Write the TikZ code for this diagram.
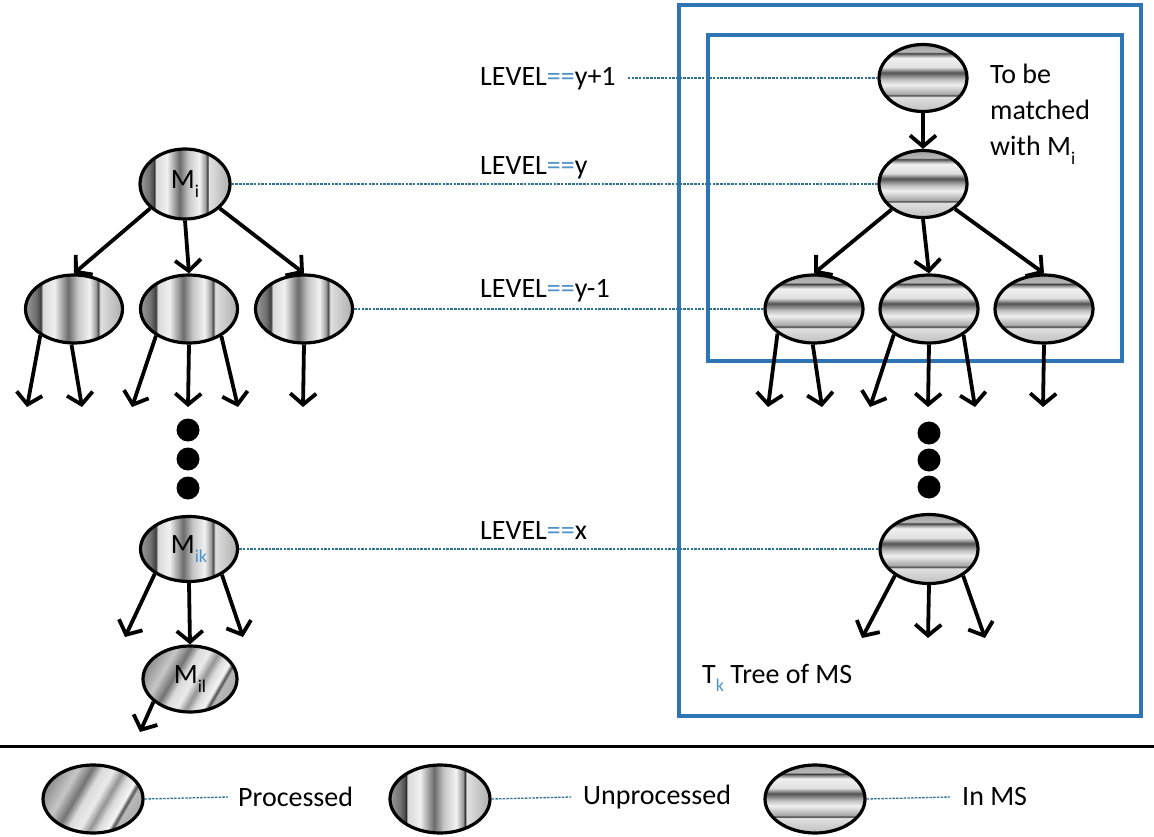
\documentclass[tikz,border=0pt]{standalone}
\usepackage{fontspec}
\setmainfont{Carlito}
\usetikzlibrary{shapes.geometric,arrows.meta}

\definecolor{boxblue}{HTML}{2E75B6}
\definecolor{leveldash}{HTML}{2F7394}
\definecolor{eqblue}{HTML}{4F93C8}

% vertical stripes (unprocessed)
\pgfdeclarehorizontalshading{vstripes}{100bp}{%
  color(0bp)=(black!40); color(25bp)=(black!40);
  color(30bp)=(black!55); color(32.3bp)=(black!70);
  color(33bp)=(black!82); color(33.8bp)=(black!15);
  color(40bp)=(black!6); color(47bp)=(black!58);
  color(52bp)=(black!22); color(58bp)=(black!5);
  color(61.5bp)=(black!40); color(62.5bp)=(black!80);
  color(63.3bp)=(black!12); color(75bp)=(black!32);
  color(100bp)=(black!32)}
% horizontal stripes (in MS), listed bottom to top
\pgfdeclareverticalshading{hstripes}{100bp}{%
  color(0bp)=(black!25); color(25bp)=(black!25);
  color(36bp)=(black!12); color(37bp)=(black!78);
  color(38bp)=(black!35); color(45bp)=(black!6);
  color(49bp)=(black!25); color(54bp)=(black!68);
  color(58bp)=(black!12); color(65bp)=(black!6);
  color(67.5bp)=(black!50); color(68.5bp)=(black!78);
  color(69.5bp)=(black!28); color(75bp)=(black!38);
  color(100bp)=(black!38)}
% diagonal streaks (processed)
\pgfdeclarehorizontalshading{dstripes}{100bp}{%
  color(0bp)=(black!42); color(25bp)=(black!42);
  color(34bp)=(black!22); color(41bp)=(black!55);
  color(46bp)=(black!14); color(52bp)=(black!8);
  color(57bp)=(black!42); color(61bp)=(black!14);
  color(66bp)=(black!4); color(68bp)=(black!70);
  color(69.5bp)=(black!28); color(75bp)=(black!32);
  color(100bp)=(black!32)}

\newcommand\lowsub[1]{\raisebox{-0.32em}{\fontsize{18}{18}\selectfont #1}}

\tikzset{
  tnode/.style={ellipse, draw=black, line width=3.2pt, inner sep=0pt,
    minimum width=97pt, minimum height=68pt, font=\fontsize{28}{34}\selectfont},
  unproc/.style={tnode, shade, shading=vstripes},
  inms/.style={tnode, shade, shading=hstripes},
  proc/.style={tnode, shade, shading=dstripes, shading angle=-30},
  arr/.style={line width=3.8pt, -{Straight Barb[length=11pt,width=26pt]}},
  lvl/.style={leveldash, line width=1.3pt, dash pattern=on 2.5pt off 1.2pt},
  lbl/.style={font=\fontsize{28}{36}\selectfont, inner sep=0pt, anchor=base west},
  bigdot/.style={circle, fill=black, minimum size=23pt, inner sep=0pt},
  bluebox/.style={draw=boxblue, line width=3.4pt},
}

\begin{document}
\begin{tikzpicture}[x=1pt,y=-1pt]
\useasboundingbox (0,0) rectangle (1154,837);

% ---------- MS tree frames ----------
\draw[bluebox] (679,5) rectangle (1141,716);
\draw[bluebox] (708,35) rectangle (1122,361);

% ---------- left tree ----------
\node[unproc, minimum width=90pt, minimum height=70pt] (mi) at (185,184) {M\lowsub{i}};
\node[unproc] (c1) at (74,309) {};
\node[unproc] (c2) at (189,309) {};
\node[unproc] (c3) at (304,309) {};
\node[unproc, minimum height=65pt] (mik) at (189,549) {M\lowsub{\textcolor{eqblue}{ik}}};
\node[proc, minimum width=94pt, minimum height=66pt] (mil) at (190,679) {M\lowsub{il}};

\node[bigdot] (ld1) at (188,430) {};
\node[bigdot] (ld2) at (188,459) {};
\node[bigdot] (ld3) at (188,488) {};

\draw[arr] (mi.215) -- (c1.north);
\draw[arr] (mi.south) -- (c2.north);
\draw[arr] (mi.325) -- (c3.north);
\draw[arr] (mik.south) -- (mil.north);

% free ends of the leaf arrows
\coordinate (la1) at (27,407);
\coordinate (la2) at (82,407);
\coordinate (la3) at (132,407);
\coordinate (la4) at (188,407);
\coordinate (la5) at (238,407);
\coordinate (la6) at (303,407);
\coordinate (lk1) at (125,637);
\coordinate (lk3) at (243,637);
\coordinate (ll1) at (140,732);

\draw[arr] (c1.218) -- (la1);
\draw[arr] (c1.266) -- (la2);
\draw[arr] (c2.219) -- (la3);
\draw[arr] (c2.270) -- (la4);
\draw[arr] (c2.320) -- (la5);
\draw[arr] (c3.270) -- (la6);
\draw[arr] (mik.216) -- (lk1);
\draw[arr] (mik.322) -- (lk3);
\draw[arr] (mil.212) -- (ll1);

% ---------- right tree (MS) ----------
\node[inms, minimum width=88pt, minimum height=67pt] (t0) at (923,78) {};
\node[inms, minimum width=88pt, minimum height=67pt] (t1) at (923,184) {};
\node[inms, minimum width=98pt] (r1) at (814,309) {};
\node[inms, minimum width=98pt] (r2) at (929,309) {};
\node[inms, minimum width=98pt] (r3) at (1044,309) {};
\node[inms, minimum width=98pt, minimum height=69pt] (rx) at (929,549) {};

\node[bigdot] (rd1) at (929,433) {};
\node[bigdot] (rd2) at (929,460) {};
\node[bigdot] (rd3) at (929,487) {};

\draw[arr] (t0.south) -- (t1.north);
\draw[arr] (t1.219) -- (r1.north);
\draw[arr] (t1.south) -- (r2.north);
\draw[arr] (t1.322) -- (r3.north);

\coordinate (ra1) at (768,407);
\coordinate (ra2) at (822,407);
\coordinate (ra3) at (870,407);
\coordinate (ra4) at (928,407);
\coordinate (ra5) at (975,407);
\coordinate (ra6) at (1043,407);
\coordinate (rx1) at (862,638);
\coordinate (rx2) at (928,638);
\coordinate (rx3) at (985,638);

\draw[arr] (r1.214) -- (ra1);
\draw[arr] (r1.268) -- (ra2);
\draw[arr] (r2.216) -- (ra3);
\draw[arr] (r2.270) -- (ra4);
\draw[arr] (r2.323) -- (ra5);
\draw[arr] (r3.270) -- (ra6);
\draw[arr] (rx.218) -- (rx1);
\draw[arr] (rx.270) -- (rx2);
\draw[arr] (rx.322) -- (rx3);

\node[lbl, anchor=north west, align=left] (match) at (990,64)
  {To be\\matched\\with M\lowsub{i}};
\node[lbl] (tk) at (702,683) {T\lowsub{\textcolor{eqblue}{k}} Tree of MS};

% ---------- level markers ----------
\node[lbl] (ly1) at (480,86) {LEVEL\textcolor{eqblue}{==}y+1};
\node[lbl] (ly) at (480,175) {LEVEL\textcolor{eqblue}{==}y};
\node[lbl] (lym) at (480,298) {LEVEL\textcolor{eqblue}{==}y-1};
\node[lbl] (lx) at (480,539) {LEVEL\textcolor{eqblue}{==}x};

\draw[lvl] ([xshift=12pt]ly1.east |- t0.west) -- (t0.west);
\draw[lvl] (mi.east) -- (mi.east -| t1.west);
\draw[lvl] (c3.east) -- (c3.east -| r1.west);
\draw[lvl] (mik.east) -- (mik.east -| rx.west);

% ---------- legend ----------
\draw[line width=3pt] (0,746) -- (1154,746);

\node[proc, minimum width=100pt] (kp) at (93,799) {};
\node[unproc, minimum width=100pt] (ku) at (440,799) {};
\node[inms, minimum width=100pt] (km) at (815,799) {};

\node[lbl, anchor=west] (kpt) at (238,797) {Processed};
\node[lbl, anchor=west] (kut) at (583,797) {Unprocessed};
\node[lbl, anchor=west] (kmt) at (962,797) {In MS};

\draw[lvl] (kp.east) -- ([xshift=-10pt]kpt.west);
\draw[lvl] (ku.east) -- ([xshift=-12pt]kut.west);
\draw[lvl] (km.east) -- ([xshift=-12pt]kmt.west);
\end{tikzpicture}
\end{document}
